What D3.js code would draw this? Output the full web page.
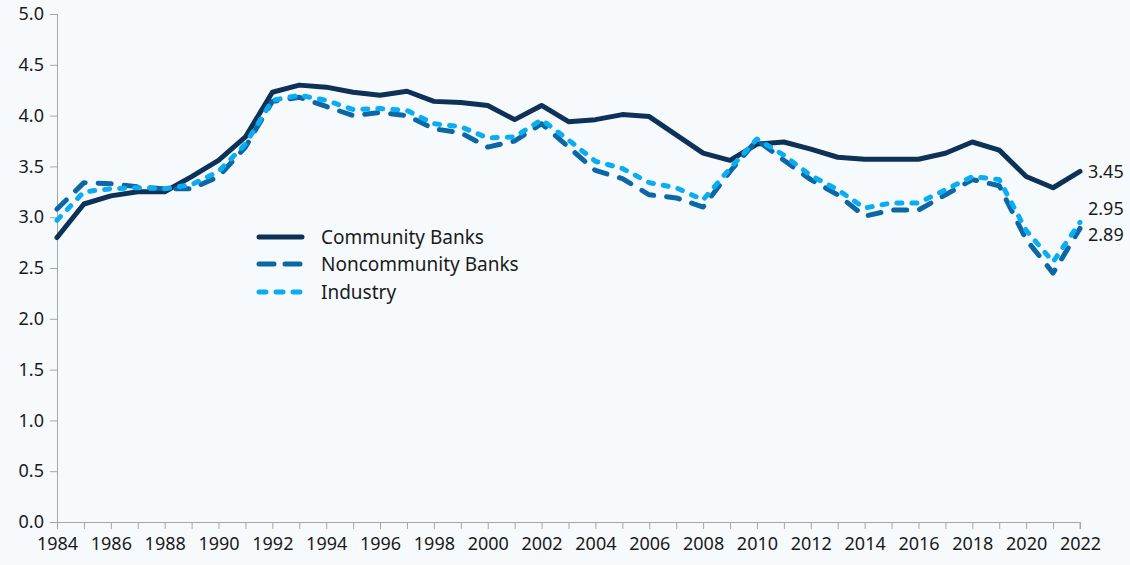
<!DOCTYPE html>
<html>
<head>
<meta charset="utf-8">
<script src="https://cdn.jsdelivr.net/npm/d3@7"></script>
<style>
  html, body { margin: 0; padding: 0; background: #f7fafd; }
  svg { display: block; }
  text { font-family: "Noto Sans", "Open Sans", sans-serif; fill: #1a1a1a; }
</style>
</head>
<body>
<svg id="chart" width="1130" height="565"></svg>
<script>
const years = d3.range(1984, 2023);
const community = [2.80,3.13,3.21,3.25,3.25,3.40,3.56,3.79,4.23,4.30,4.28,4.23,4.20,4.24,4.14,4.13,4.10,3.96,4.10,3.94,3.96,4.01,3.99,3.81,3.63,3.56,3.72,3.74,3.67,3.59,3.57,3.57,3.57,3.63,3.74,3.66,3.40,3.29,3.45];
const noncommunity = [3.08,3.34,3.33,3.30,3.28,3.28,3.40,3.69,4.14,4.18,4.09,4.00,4.03,4.00,3.87,3.83,3.69,3.75,3.92,3.69,3.46,3.38,3.22,3.19,3.10,3.45,3.76,3.56,3.37,3.22,3.01,3.07,3.07,3.22,3.37,3.31,2.78,2.45,2.89];
const industry = [2.97,3.25,3.28,3.29,3.28,3.32,3.45,3.72,4.15,4.20,4.15,4.06,4.07,4.05,3.92,3.89,3.78,3.79,3.96,3.76,3.55,3.48,3.34,3.29,3.17,3.48,3.77,3.61,3.41,3.27,3.09,3.14,3.14,3.27,3.40,3.37,2.87,2.56,2.95];
const yTicks = [0,0.5,1.0,1.5,2.0,2.5,3.0,3.5,4.0,4.5,5.0];
const xTickLabels = d3.range(1984, 2023, 2);
const seriesNames = ["Community Banks", "Noncommunity Banks", "Industry"];
const endLabels = ["3.45", "2.89", "2.95"];

const svg = d3.select("#chart");
const margin = {left: 57, right: 50, top: 14, bottom: 43};
const W = 1130, H = 565;
const x = d3.scaleLinear().domain([1984, 2022]).range([margin.left, W - margin.right]);
const y = d3.scaleLinear().domain([0, 5]).range([H - margin.bottom, margin.top]);

const axisColor = "#a6a6a6";

// y axis
const yAxis = svg.append("g").attr("transform", `translate(${margin.left},0)`)
  .call(d3.axisLeft(y).tickValues(yTicks).tickFormat(d3.format(".1f")).tickSize(7).tickPadding(6));
yAxis.select(".domain").attr("stroke", axisColor);
yAxis.selectAll(".tick line").attr("stroke", axisColor);
yAxis.selectAll("text").style("font-size", "18px").attr("fill", "#1a1a1a");

// x axis
const xAxis = svg.append("g").attr("transform", `translate(0,${y(0)})`)
  .call(d3.axisBottom(x).tickValues(years).tickFormat(d => xTickLabels.includes(d) ? d : "").tickSize(7).tickPadding(8));
xAxis.select(".domain").attr("stroke", axisColor).attr("d", `M${x(1984)},0.5H${x(2022)}V7`);
xAxis.selectAll(".tick line").attr("stroke", axisColor);
xAxis.selectAll("text").style("font-size", "18px").attr("fill", "#1a1a1a");

const styles = [
  {color: "#0d3157", dash: null},
  {color: "#0b67a6", dash: "13,13"},
  {color: "#0aaef0", dash: "5,10"}
];
const data = [community, noncommunity, industry];
const line = d3.line().x((d, i) => x(years[i])).y(d => y(d)).curve(d3.curveLinear);

[0, 1, 2].forEach(k => {
  svg.append("path")
    .attr("d", line(data[k]))
    .attr("fill", "none")
    .attr("stroke", styles[k].color)
    .attr("stroke-width", 5)
    .attr("stroke-linejoin", "round")
    .attr("stroke-linecap", "round")
    .attr("stroke-dasharray", styles[k].dash);
});

// end labels
const labelY = [y(community[38]), y(noncommunity[38]) + 6, y(industry[38]) - 14];
[0, 1, 2].forEach(k => {
  svg.append("text")
    .attr("x", x(2022) + 8)
    .attr("y", labelY[k])
    .attr("dy", "0.35em")
    .style("font-size", "18px")
    .text(endLabels[k]);
});

// legend
const lg = svg.append("g");
const legendY = [237, 264, 292];
const legendDash = [null, "15,11", "7,10"];
seriesNames.forEach((name, k) => {
  lg.append("line")
    .attr("x1", 259).attr("x2", 302)
    .attr("y1", legendY[k]).attr("y2", legendY[k])
    .attr("stroke", styles[k].color)
    .attr("stroke-width", 5)
    .attr("stroke-linecap", "round")
    .attr("stroke-dasharray", legendDash[k]);
  lg.append("text")
    .attr("x", 321).attr("y", legendY[k])
    .attr("dy", "0.35em")
    .style("font-size", "19px")
    .text(name);
});
</script>
</body>
</html>
